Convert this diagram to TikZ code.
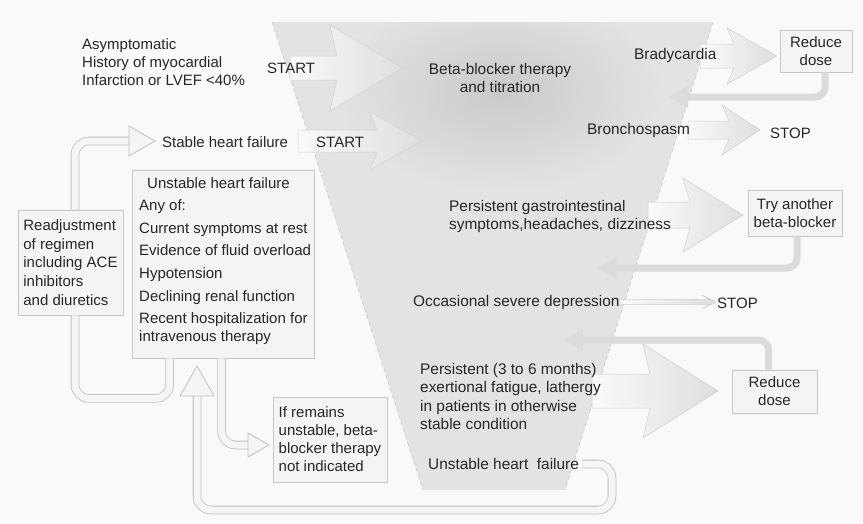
\documentclass[tikz,border=0pt]{standalone}
\usepackage{fontspec}
\setmainfont{Liberation Sans}
\usetikzlibrary{arrows.meta,shadows}

% wide block arrow: shaft x0..x1, head x1..x2, centre line y, half shaft, half head
\newcommand\flowarrow[7]{%
  \path[#7] (#1,#4-#5) -- (#2+7,#4-#5) -- (#2,#4-#6) -- (#3,#4)
    -- (#2,#4+#6) -- (#2+7,#4+#5) -- (#1,#4+#5) -- cycle;}

\begin{document}
\begin{tikzpicture}[x=1pt,y=-1pt,
  txt/.style={inner sep=0pt, font=\fontsize{15}{18}\selectfont, text=black!85},
  ftxt/.style={txt, font=\fontsize{15.4}{18}\selectfont},
  boxsty/.style={draw=gray!45, line width=0.8pt, fill=gray!9, inner sep=3pt,
    font=\fontsize{15}{18}\selectfont, text=black!85,
    drop shadow={shadow xshift=1.3pt, shadow yshift=-1.3pt, fill=gray!55, opacity=0.6}},
  blockarrow/.style={left color=gray!4, right color=gray!26, draw=gray!38, line width=0.5pt},
  retsty/.style={draw=gray!28, line width=7pt, rounded corners=10pt,
    -{Triangle[length=20pt,width=21pt]}},
  loopsty/.style={draw=gray!50, line width=0.8pt, double=gray!8, double distance=7pt,
    rounded corners=14pt},
  openhead/.style={draw=gray!50, line width=0.8pt, fill=gray!8},
  funneledge/.style={draw=gray!42, line width=0.6pt, dash pattern=on 4pt off 3pt}
]
\useasboundingbox (0,0) rectangle (863,523);
\fill[gray!5] (0,0) rectangle (863,523);

% the titration funnel
\coordinate (f1) at (272,22);
\coordinate (f2) at (713,22);
\coordinate (f3) at (565,490);
\coordinate (f4) at (423,490);
\begin{scope}
  \clip (f1) -- (f2) -- (f3) -- (f4) -- cycle;
  \fill[gray!22] (272,22) rectangle (713,490);
  \shade[inner color=gray!42, outer color=gray!22] (500,92) ellipse [x radius=165, y radius=100];
\end{scope}
\draw[funneledge] (f1) -- (f4);
\draw[funneledge] (f2) -- (f3);

% block arrows
\flowarrow{290}{330}{403}{68}{12}{43}{blockarrow}
\flowarrow{298}{370}{422}{141}{11}{29}{blockarrow}
\flowarrow{700}{727}{777}{56}{12}{28}{blockarrow}
\flowarrow{688}{722}{760}{130}{9}{25}{blockarrow}
\flowarrow{648}{683}{743}{215}{13}{37}{blockarrow}
\flowarrow{620}{702}{716}{302}{2.5}{7}{blockarrow}
\flowarrow{592}{643}{718}{391}{17}{47}{blockarrow}

% boxes
\node[boxsty, minimum width=72, minimum height=42, align=center] (rd1) at (816,51) {Reduce\\dose};
\node[boxsty, minimum width=94, minimum height=46, align=center] (tryb) at (795,213) {Try another\\beta-blocker};
\node[boxsty, minimum width=85, minimum height=43, align=center] (rd2) at (774.5,391.5) {Reduce\\dose};

% return arrows back into the funnel
\coordinate (r1) at (668,97);
\coordinate (r2) at (597,268);
\coordinate (r3) at (563,340);
\draw[retsty] ([xshift=9pt]rd1.south) |- (r1);
\draw[retsty] ([xshift=2pt]tryb.south) |- (r2);
\draw[retsty] ([xshift=-6pt]rd2.north) |- (r3);

% left-hand boxes
\node[boxsty, minimum width=105, minimum height=105, align=left,
  font=\fontsize{15}{18.75}\selectfont] (readj) at (70.5,262.5)
  {Readjustment\\of regimen\\including ACE\\inhibitors\\and diuretics};
\node[boxsty, minimum width=182, minimum height=188] (ubox) at (223,264) {};
\node[boxsty, minimum width=114, minimum height=85, align=left] (ifrem) at (330,439.5)
  {If remains\\unstable, beta-\\blocker therapy\\not indicated};

% texts
\node[txt, anchor=west, align=left] (asym) at (82,62.5)
  {Asymptomatic\\History of myocardial\\Infarction or LVEF <40\%};
\node[txt, anchor=west] (start1) at (267,68) {START};
\node[ftxt, align=center] (beta) at (500,78) {Beta-blocker therapy\\and titration};
\node[txt, anchor=west] (stable) at (162,142) {Stable heart failure};
\node[txt, anchor=west] (start2) at (316,142) {START};
\node[ftxt, anchor=west] (brady) at (634,56) {Bradycardia};
\node[ftxt, anchor=west] (bronch) at (587,131) {Bronchospasm};
\node[txt, anchor=west] (stopA) at (770,133) {STOP};
\node[ftxt, anchor=west, align=left] (gi) at (449,217)
  {Persistent gastrointestinal\\symptoms,headaches, dizziness};
\node[ftxt, anchor=west] (depr) at (413,303) {Occasional severe depression};
\node[txt, anchor=west] (stopB) at (717,303) {STOP};
\node[ftxt, anchor=west, align=left, font=\fontsize{15.4}{18.3}\selectfont] (persist) at (420,396.5)
  {Persistent (3 to 6 months)\\exertional fatigue, lathergy\\in patients in otherwise\\stable condition};
\node[ftxt, anchor=west] (unstF) at (428,464) {Unstable heart\hspace{0.28em} failure};
\node[txt, anchor=west, align=left] (ulist) at (139,261)
  {\hspace{8pt}Unstable heart failure\\[4.6pt]
   Any of:\\[4.6pt]
   Current symptoms at rest\\[4.6pt]
   Evidence of fluid overload\\[4.6pt]
   Hypotension\\[4.6pt]
   Declining renal function\\[4.6pt]
   Recent hospitalization for\\
   intravenous therapy};

% open loop connectors
\coordinate (h1) at (131,141);
\coordinate (h3) at (250,445);
\coordinate (h4) at (197,395);
\draw[loopsty] ([xshift=4.5pt]readj.north) |- (h1);
\path[openhead] (129,126) -- (155,141) -- (129,156) -- cycle;
\draw[loopsty] ([xshift=38pt]ubox.south west) -- ++(0,40) -| ([xshift=4.5pt]readj.south);
\draw[loopsty] ([xshift=90pt]ubox.south west) |- (h3);
\path[openhead] (248,433) -- (269,445) -- (248,457) -- cycle;
\draw[loopsty] ([xshift=3pt]unstF.east) -| (612,510) -| (h4);
\path[openhead] (180,396) -- (197,366) -- (214,396) -- cycle;
\end{tikzpicture}
\end{document}
